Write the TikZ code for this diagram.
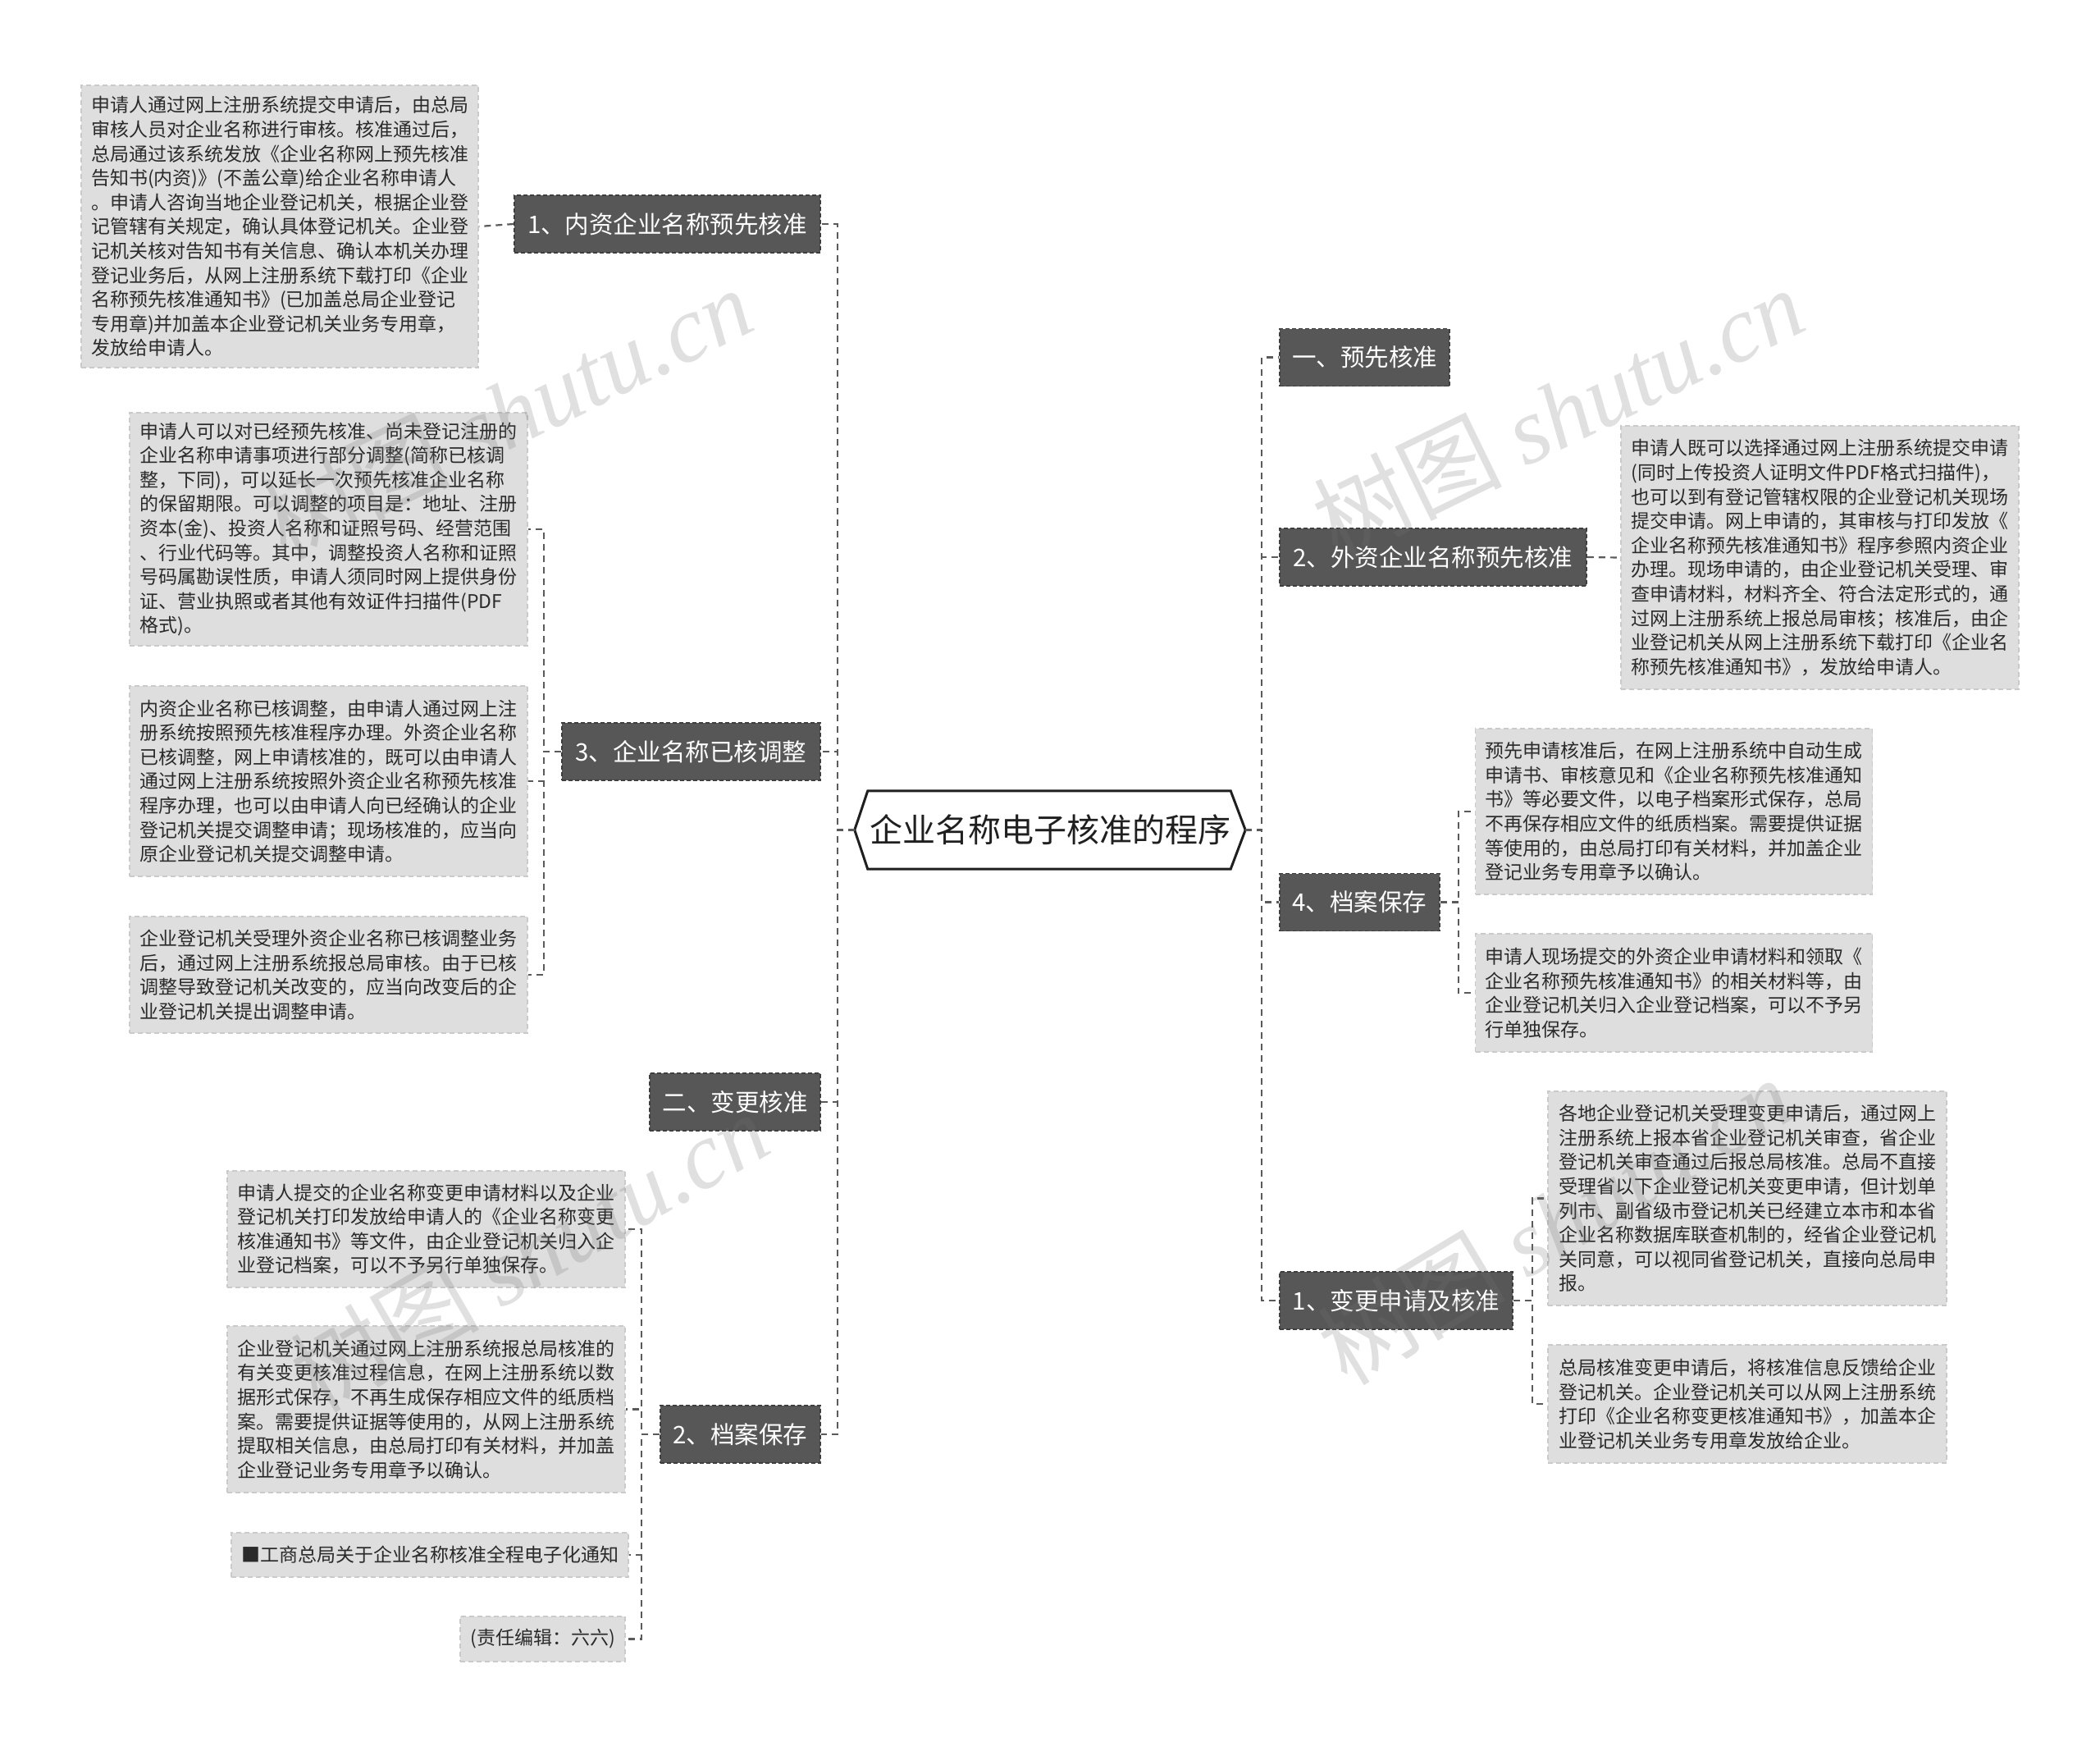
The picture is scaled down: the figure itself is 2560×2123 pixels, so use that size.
\documentclass[tikz,border=0pt]{standalone}
\usepackage{fontspec}
\setmainfont{Noto Sans CJK SC}
\newfontfamily\wmserif{Liberation Serif}
\definecolor{connc}{HTML}{5A5A5A}
\definecolor{darknode}{HTML}{575757}
\definecolor{darkedge}{HTML}{3E3E3E}
\definecolor{boxfill}{HTML}{DEDEDE}
\definecolor{boxedge}{HTML}{CACACA}
\definecolor{boxtext}{HTML}{2A2A2A}
\begin{document}
\begin{tikzpicture}[x=1pt,y=-1pt,
  conn/.style={draw=connc, line width=2.2pt, dash pattern=on 8pt off 6pt},
  topic/.style={fill=darknode, draw=darkedge, line width=1.5pt, dash pattern=on 5pt off 3pt,
    text=white, font=\fontsize{29.5}{34}\selectfont, minimum height=70pt, inner sep=0pt},
  detail/.style={fill=boxfill, draw=boxedge, line width=1.5pt, dash pattern=on 6pt off 4pt,
    text=boxtext, font=\fontsize{23}{29.6}\selectfont, align=left, text width=460pt,
    inner xsep=12pt, inner ysep=0pt},
  single/.style={fill=boxfill, draw=boxedge, line width=1.5pt, dash pattern=on 6pt off 4pt,
    text=boxtext, font=\fontsize{23}{29.6}\selectfont, inner xsep=12pt, inner ysep=0pt},
  rootbox/.style={minimum width=476pt, minimum height=95pt, inner sep=0pt,
    font=\fontsize{40}{48}\selectfont, text=black!88},
  hexline/.style={draw=black!88, line width=3pt, fill=white, line join=miter},
  wm/.style={text=black!55, text opacity=0.22, inner sep=0pt, font=\fontsize{115}{120}\selectfont}
]
\fill[white] (0,0) rectangle (2560,2123);
\useasboundingbox (0,0) rectangle (2560,2123);

% root
\node[rootbox] (root) at (1280,1011.5) {};
\draw[hexline] (root.west) -- ([xshift=16pt]root.north west) -- ([xshift=-18pt]root.north east)
  -- (root.east) -- ([xshift=-18pt]root.south east) -- ([xshift=16pt]root.south west) -- cycle;
\node[rootbox] (roottext) at (root.center) {企业名称电子核准的程序};

% left topics
\node[topic, minimum width=373pt] (n1) at (813.5,273) {1、内资企业名称预先核准};
\node[topic, minimum width=315pt] (n3) at (842.5,916) {3、企业名称已核调整};
\node[topic, minimum width=208pt] (nb) at (896,1343) {二、变更核准};
\node[topic, minimum width=195pt] (n2) at (902.5,1748) {2、档案保存};

% right topics
\node[topic, minimum width=207pt] (ra) at (1663.5,435.5) {一、预先核准};
\node[topic, minimum width=374pt] (r2) at (1747,679) {2、外资企业名称预先核准};
\node[topic, minimum width=195pt] (r4) at (1657.5,1099.5) {4、档案保存};
\node[topic, minimum width=284pt] (r1) at (1702,1585) {1、变更申请及核准};

% left details
\node[detail, minimum width=484pt, minimum height=344pt] (dA) at (341,276) {申请人通过网上注册系统提交申请后，由总局\\审核人员对企业名称进行审核。核准通过后，\\总局通过该系统发放《企业名称网上预先核准\\告知书(内资)》(不盖公章)给企业名称申请人\\。申请人咨询当地企业登记机关，根据企业登\\记管辖有关规定，确认具体登记机关。企业登\\记机关核对告知书有关信息、确认本机关办理\\登记业务后，从网上注册系统下载打印《企业\\名称预先核准通知书》(已加盖总局企业登记\\专用章)并加盖本企业登记机关业务专用章，\\发放给申请人。};

\node[detail, minimum width=485pt, minimum height=284pt] (dB) at (400.5,645) {申请人可以对已经预先核准、尚未登记注册的\\企业名称申请事项进行部分调整(简称已核调\\整，下同)，可以延长一次预先核准企业名称\\的保留期限。可以调整的项目是：地址、注册\\资本(金)、投资人名称和证照号码、经营范围\\、行业代码等。其中，调整投资人名称和证照\\号码属勘误性质，申请人须同时网上提供身份\\证、营业执照或者其他有效证件扫描件(PDF\\格式)。};

\node[detail, minimum width=485pt, minimum height=232pt] (dC) at (400.5,952) {内资企业名称已核调整，由申请人通过网上注\\册系统按照预先核准程序办理。外资企业名称\\已核调整，网上申请核准的，既可以由申请人\\通过网上注册系统按照外资企业名称预先核准\\程序办理，也可以由申请人向已经确认的企业\\登记机关提交调整申请；现场核准的，应当向\\原企业登记机关提交调整申请。};

\node[detail, minimum width=485pt, minimum height=142pt] (dD) at (400.5,1188) {企业登记机关受理外资企业名称已核调整业务\\后，通过网上注册系统报总局审核。由于已核\\调整导致登记机关改变的，应当向改变后的企\\业登记机关提出调整申请。};

\node[detail, minimum width=485pt, minimum height=142pt] (dE) at (519.5,1498) {申请人提交的企业名称变更申请材料以及企业\\登记机关打印发放给申请人的《企业名称变更\\核准通知书》等文件，由企业登记机关归入企\\业登记档案，可以不予另行单独保存。};

\node[detail, minimum width=485pt, minimum height=203pt] (dF) at (519.5,1717.5) {企业登记机关通过网上注册系统报总局核准的\\有关变更核准过程信息，在网上注册系统以数\\据形式保存，不再生成保存相应文件的纸质档\\案。需要提供证据等使用的，从网上注册系统\\提取相关信息，由总局打印有关材料，并加盖\\企业登记业务专用章予以确认。};

\node[single, minimum width=476pt, minimum height=54pt] (dG) at (524,1895) {■工商总局关于企业名称核准全程电子化通知};
\node[single, minimum width=201pt, minimum height=55pt] (dH) at (661.5,1997.5) {(责任编辑：六六)};

% right details
\node[detail, minimum width=485pt, minimum height=321pt] (dI) at (2218.5,679.5) {申请人既可以选择通过网上注册系统提交申请\\(同时上传投资人证明文件PDF格式扫描件)，\\也可以到有登记管辖权限的企业登记机关现场\\提交申请。网上申请的，其审核与打印发放《\\企业名称预先核准通知书》程序参照内资企业\\办理。现场申请的，由企业登记机关受理、审\\查申请材料，材料齐全、符合法定形式的，通\\过网上注册系统上报总局审核；核准后，由企\\业登记机关从网上注册系统下载打印《企业名\\称预先核准通知书》，发放给申请人。};

\node[detail, minimum width=483pt, minimum height=202pt] (dJ) at (2040.5,989) {预先申请核准后，在网上注册系统中自动生成\\申请书、审核意见和《企业名称预先核准通知\\书》等必要文件，以电子档案形式保存，总局\\不再保存相应文件的纸质档案。需要提供证据\\等使用的，由总局打印有关材料，并加盖企业\\登记业务专用章予以确认。};

\node[detail, minimum width=483pt, minimum height=144pt] (dK) at (2040.5,1210) {申请人现场提交的外资企业申请材料和领取《\\企业名称预先核准通知书》的相关材料等，由\\企业登记机关归入企业登记档案，可以不予另\\行单独保存。};

\node[detail, minimum width=486pt, minimum height=261pt] (dL) at (2130,1460.5) {各地企业登记机关受理变更申请后，通过网上\\注册系统上报本省企业登记机关审查，省企业\\登记机关审查通过后报总局核准。总局不直接\\受理省以下企业登记机关变更申请，但计划单\\列市、副省级市登记机关已经建立本市和本省\\企业名称数据库联查机制的，经省企业登记机\\关同意，可以视同省登记机关，直接向总局申\\报。};

\node[detail, minimum width=486pt, minimum height=144pt] (dM) at (2130,1711) {总局核准变更申请后，将核准信息反馈给企业\\登记机关。企业登记机关可以从网上注册系统\\打印《企业名称变更核准通知书》，加盖本企\\业登记机关业务专用章发放给企业。};

% connectors: root to topics
\foreach \t in {n1,n3,nb,n2}{
  \draw[conn] (root.west) -- ++(-21,0) |- (\t.east);
}
\foreach \t in {ra,r2,r4,r1}{
  \draw[conn] (root.east) -- ++(20,0) |- (\t.west);
}
% topics to details
\draw[conn] (n1.west) -- (dA.east);
\foreach \d in {dB,dC,dD}{
  \draw[conn] (n3.west) -- ++(-21,0) |- (\d.east);
}
\foreach \d in {dE,dF,dG,dH}{
  \draw[conn] (n2.west) -- ++(-22,0) |- (\d.east);
}
\draw[conn] (r2.east) -- (dI.west);
\foreach \d in {dJ,dK}{
  \draw[conn] (r4.east) -- ++(22,0) |- (\d.west);
}
\foreach \d in {dL,dM}{
  \draw[conn] (r1.east) -- ++(23,0) |- (\d.west);
}

% watermarks
\node[wm, rotate=26] (wm1) at (617,502) {树图 {\wmserif\itshape shutu.cn}};
\node[wm, rotate=26] (wm2) at (1899,502) {树图 {\wmserif\itshape shutu.cn}};
\node[wm, rotate=30] (wm3) at (645,1525) {树图 {\wmserif\itshape shutu.cn}};
\node[wm, rotate=31] (wm4) at (1895,1488) {树图 {\wmserif\itshape shutu.cn}};
\end{tikzpicture}
\end{document}
